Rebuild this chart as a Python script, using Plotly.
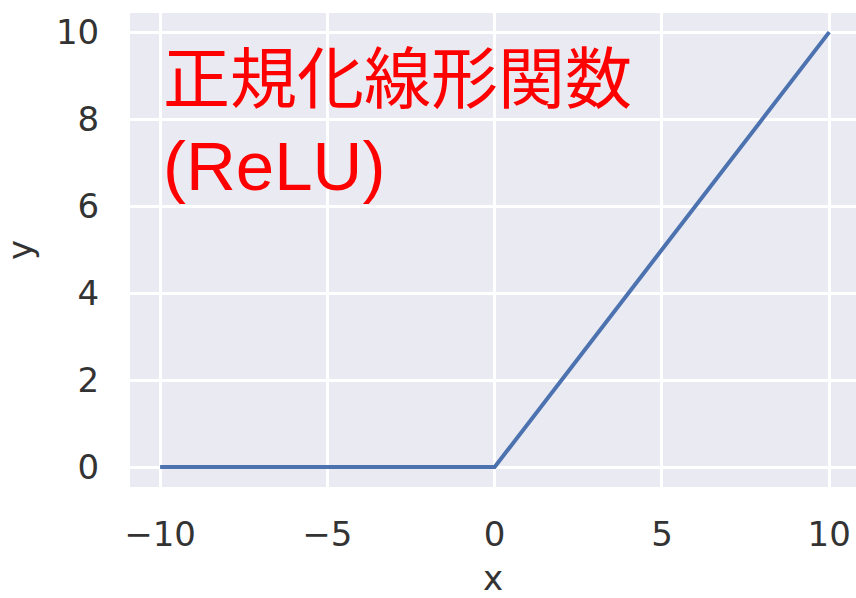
import plotly.graph_objects as go

x_vals = [-10, 0, 10]
y_vals = [0, 0, 10]
x_ticks = [-10, -5, 0, 5, 10]
x_tick_text = ["\u221210", "\u22125", "0", "5", "10"]
y_ticks = [0, 2, 4, 6, 8, 10]
label_line1 = "正規化線形関数"
label_line2 = "(ReLU)"

fig = go.Figure()
fig.add_trace(go.Scatter(x=x_vals, y=y_vals, mode="lines",
                         line=dict(color="#4C72B0", width=4), showlegend=False))

fig.add_annotation(x=-9.97, y=8.9, xref="x", yref="y", text=label_line1,
                   showarrow=False, xanchor="left", yanchor="middle", align="left",
                   font=dict(family="Liberation Sans, Noto Sans CJK JP", size=67, color="#FF0000"))
fig.add_annotation(x=-9.97, y=6.92, xref="x", yref="y", text=label_line2,
                   showarrow=False, xanchor="left", yanchor="middle", align="left",
                   font=dict(family="Liberation Sans, Noto Sans CJK JP", size=69, color="#FF0000"))

tick_font = dict(family="DejaVu Sans", size=34, color="#333333")
fig.update_layout(
    width=856, height=598,
    margin=dict(l=130, r=0, t=13, b=111),
    paper_bgcolor="white", plot_bgcolor="#EAEAF2",
    xaxis=dict(range=[-10.9, 10.8], tickvals=x_ticks, ticktext=x_tick_text,
               showgrid=True, gridcolor="white", gridwidth=2.5, zeroline=False,
               ticks="outside", ticklen=17, tickcolor="rgba(0,0,0,0)",
               tickfont=tick_font, automargin=False,
               title=dict(text="x", font=tick_font, standoff=18)),
    yaxis=dict(range=[-0.46, 10.44], tickvals=y_ticks,
               showgrid=True, gridcolor="white", gridwidth=2.5, zeroline=False,
               ticks="outside", ticklen=23, tickcolor="rgba(0,0,0,0)",
               tickfont=tick_font, automargin=False,
               title=dict(text="y", font=tick_font, standoff=14)),
)

fig.write_html("out.html", config={"displayModeBar": False},
               post_script="document.body.style.margin='0';")
